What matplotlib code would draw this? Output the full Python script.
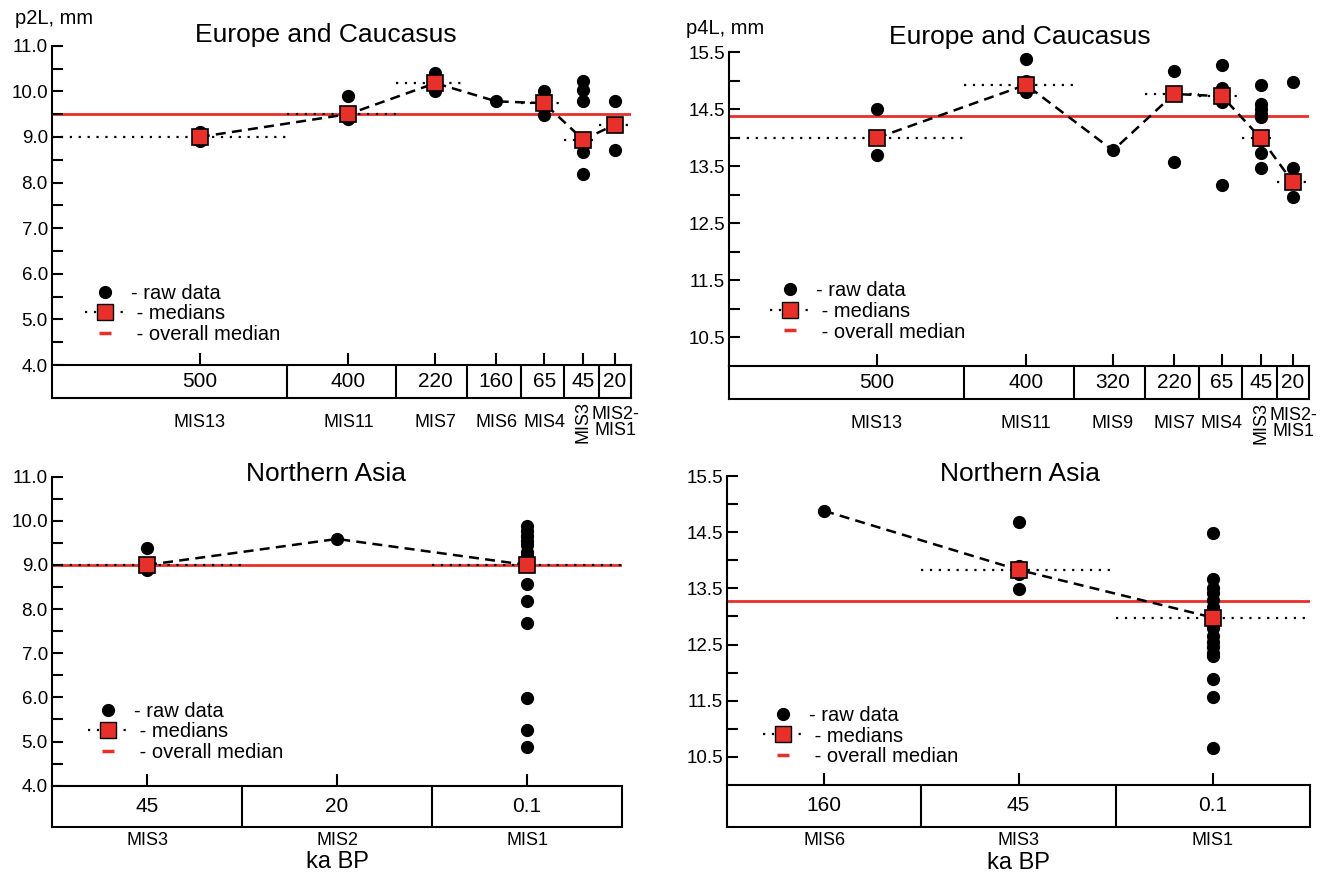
import numpy as np
import matplotlib.pyplot as plt
from matplotlib.lines import Line2D

plt.rcParams['font.family'] = ['Liberation Sans', 'DejaVu Sans']

# ---- data: p2L Europe and Caucasus ----
ages_tl = ['500', '400', '220', '160', '65', '45', '20']
mis_tl = ['MIS13', 'MIS11', 'MIS7', 'MIS6', 'MIS4', 'MIS3', 'MIS2-\nMIS1']
raw_tl = [[9.1, 9.0, 8.9],
          [9.9, 9.5, 9.4],
          [10.4, 10.3, 10.18, 10.0],
          [9.78],
          [10.0, 9.74, 9.48],
          [10.23, 10.02, 9.78, 8.94, 8.68, 8.19],
          [9.78, 9.27, 8.72]]
med_tl = [9.0, 9.5, 10.18, 9.78, 9.74, 8.94, 9.27]
overall_tl = 9.5

# ---- data: p4L Europe and Caucasus ----
ages_tr = ['500', '400', '320', '220', '65', '45', '20']
mis_tr = ['MIS13', 'MIS11', 'MIS9', 'MIS7', 'MIS4', 'MIS3', 'MIS2-\nMIS1']
raw_tr = [[14.5, 14.0, 13.7],
          [15.38, 15.0, 14.93, 14.8],
          [13.78],
          [15.17, 14.77, 13.57],
          [15.28, 14.88, 14.8, 14.73, 14.62, 13.18],
          [14.93, 14.6, 14.5, 14.42, 14.36, 14.0, 13.95, 13.73, 13.48],
          [14.98, 13.47, 13.22, 12.96]]
med_tr = [14.0, 14.93, 13.78, 14.77, 14.73, 13.99, 13.22]
overall_tr = 14.39

# ---- data: p2L Northern Asia ----
ages_bl = ['45', '20', '0.1']
mis_bl = ['MIS3', 'MIS2', 'MIS1']
raw_bl = [[9.39, 9.0, 8.88],
          [9.59],
          [9.89, 9.77, 9.65, 9.55, 9.45, 9.3, 9.2, 9.05, 9.0, 8.57, 8.18,
           7.69, 5.98, 5.27, 4.88]]
med_bl = [9.0, 9.59, 9.0]
overall_bl = 9.0

# ---- data: p4L Northern Asia ----
ages_br = ['160', '45', '0.1']
mis_br = ['MIS6', 'MIS3', 'MIS1']
raw_br = [[14.88],
          [14.68, 13.9, 13.83, 13.75, 13.48],
          [14.48, 13.67, 13.5, 13.42, 13.3, 13.17, 13.05, 12.98, 12.9, 12.8,
           12.65, 12.55, 12.45, 12.35, 12.29, 11.88, 11.57, 10.66]]
med_br = [14.88, 13.83, 12.98]
overall_br = 13.28

# ---- layout of the time band (segment edges and tick spots) ----
edges_top = [0, 235, 345, 416, 470, 513, 548, 580]
ticks_top = [148, 297, 384, 445, 493, 532, 564]
edges_bot = [0, 1, 2, 3]
ticks_bot = [0.5, 1.5, 2.5]

RED = '#e8302a'
W, H = 1341, 877


def frac(l, t, r, b):
    return [l / W, 1 - b / H, (r - l) / W, (b - t) / H]


def panel(main_rect, box_rect, edges, ticks, ages, mis, raw, med, overall,
          ylim, major, minor, title, title_xy, leg_anchor, top_row, ka=False):
    ax = fig.add_axes(frac(*main_rect))
    bx = fig.add_axes(frac(*box_rect))
    for a in (ax, bx):
        a.set_xlim(edges[0], edges[-1])

    ax.axhline(overall, color=RED, lw=2, zorder=1)
    ax.plot(ticks, med, color='black', lw=1.8, ls=(0, (4, 2.5)), zorder=3)
    for i, vals in enumerate(raw):
        ax.plot([ticks[i]] * len(vals), vals, 'o', color='black', ms=8.5,
                zorder=4)
        if len(vals) > 1:
            ax.hlines(med[i], edges[i], edges[i + 1], colors='black', lw=1.6,
                      linestyles=(0, (1, 3)), zorder=2)
            ax.plot(ticks[i], med[i], 's', mfc=RED, mec='black', mew=1.2,
                    ms=11, zorder=5)

    ax.set_ylim(*ylim)
    ax.set_yticks(major)
    ax.set_yticklabels(['%.1f' % v for v in major])
    ax.set_yticks(minor, minor=True)
    ax.set_xticks(ticks)
    ax.tick_params(axis='x', direction='in', length=9, width=1.5,
                   labelbottom=False)
    ax.tick_params(axis='y', which='both', direction='in', length=8,
                   width=1.5, labelsize=13.5, pad=3)
    for s in ('top', 'right', 'bottom'):
        ax.spines[s].set_visible(False)
    ax.spines['left'].set_linewidth(1.5)

    ax.text(title_xy[0], title_xy[1], title, transform=ax.transAxes,
            ha='center', va='center', fontsize=19)

    handles = [Line2D([], [], ls='None', marker='o', color='black', ms=8.5),
               Line2D([], [], color='black', lw=1.6, ls=(0, (1, 3)),
                      marker='s', mfc=RED, mec='black', ms=11),
               Line2D([], [], ls='None', marker='_', color=RED, ms=9,
                      mew=2.5)]
    ax.legend(handles, ['- raw data', ' - medians', ' - overall median'],
              loc='upper left', bbox_to_anchor=leg_anchor, frameon=False,
              fontsize=14.5, handlelength=2.0, handletextpad=0.3,
              labelspacing=0.08, borderpad=0, borderaxespad=0)

    # time band
    bx.set_ylim(0, 1)
    bx.set_xticks([])
    bx.set_yticks([])
    for s in bx.spines.values():
        s.set_linewidth(1.5)
    for e in edges[1:-1]:
        bx.axvline(e, color='black', lw=1.5)
    for x, a, m in zip(ticks, ages, mis):
        bx.text(x, 0.5, a, ha='center', va='center', fontsize=15)
        if m == 'MIS3' and not ka:
            bx.text(x, top_row, m, ha='center', va='center', fontsize=13,
                    rotation=90, transform=bx.get_xaxis_transform())
        else:
            bx.text(x, top_row, m, ha='center', va='center', fontsize=13,
                    linespacing=0.95, transform=bx.get_xaxis_transform())
    if ka:
        bx.text(0.5, -0.86, 'ka BP', transform=bx.transAxes, ha='center',
                va='center', fontsize=17)
    return ax


fig = plt.figure(figsize=(W / 100, H / 100), dpi=100)

maj_a = [4.0, 5.0, 6.0, 7.0, 8.0, 9.0, 10.0, 11.0]
min_a = [4.5, 5.5, 6.5, 7.5, 8.5, 9.5, 10.5]
maj_b = [10.5, 11.5, 12.5, 13.5, 14.5, 15.5]
min_b = [11.0, 12.0, 13.0, 14.0, 15.0]

panel((52, 45.7, 631, 365), (52, 365, 631, 398.3), edges_top, ticks_top,
      ages_tl, mis_tl, raw_tl, med_tl, overall_tl, (4.0, 11.0), maj_a, min_a,
      'Europe and Caucasus', (0.473, 1.034), (0.057, 0.255), -0.72)
panel((729, 52.3, 1309, 366), (729, 366, 1309, 399.3), edges_top, ticks_top,
      ages_tr, mis_tr, raw_tr, med_tr, overall_tr, (10.0, 15.5), maj_b, min_b,
      'Europe and Caucasus', (0.502, 1.049), (0.071, 0.27), -0.72)
panel((52, 476.7, 622, 785.7), (52, 785.7, 622, 826.7), edges_bot, ticks_bot,
      ages_bl, mis_bl, raw_bl, med_bl, overall_bl, (4.0, 11.0), maj_a, min_a,
      'Northern Asia', (0.481, 1.009), (0.063, 0.272), -0.33, ka=True)
panel((727, 476, 1310, 785), (727, 785, 1310, 826.7), edges_bot, ticks_bot,
      ages_br, mis_br, raw_br, med_br, overall_br, (10.0, 15.5), maj_b, min_b,
      'Northern Asia', (0.503, 1.006), (0.062, 0.256), -0.33, ka=True)

fig.text(15 / W, 1 - 18 / H, 'p2L, mm', ha='left', va='center', fontsize=14.5)
fig.text(686 / W, 1 - 28 / H, 'p4L, mm', ha='left', va='center', fontsize=14.5)

fig.savefig('out.png', dpi=100)
